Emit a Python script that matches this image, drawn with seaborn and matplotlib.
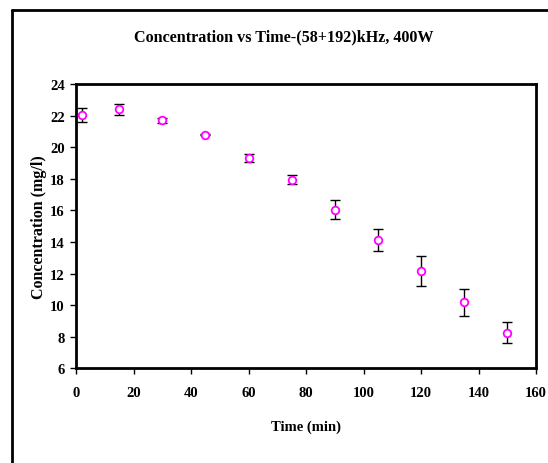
import numpy as np
import pandas as pd
import matplotlib
matplotlib.use("Agg")
import matplotlib.pyplot as plt
from matplotlib.lines import Line2D
import seaborn as sns

# data
time_min = [2, 15, 30, 45, 60, 75, 90, 105, 120, 135, 150]
conc = [22.05, 22.4, 21.7, 20.8, 19.33, 17.93, 16.05, 14.12, 12.17, 10.18, 8.27]
conc_err = [0.44, 0.35, 0.16, 0.04, 0.26, 0.29, 0.6, 0.72, 0.94, 0.87, 0.67]
x_ticks = [0, 20, 40, 60, 80, 100, 120, 140, 160]
y_ticks = [6, 8, 10, 12, 14, 16, 18, 20, 22, 24]

df = pd.DataFrame({"time": time_min, "conc": conc, "err": conc_err})

sns.set_theme(style="ticks", rc={"text.color": "black", "axes.labelcolor": "black",
                                 "xtick.color": "black", "ytick.color": "black"})
plt.rcParams["font.family"] = ["Liberation Serif", "DejaVu Serif"]
plt.rcParams["font.weight"] = "bold"

fig = plt.figure(figsize=(5.48, 4.64), dpi=100)
ax = fig.add_axes([76 / 548, 1 - 369.4 / 464, 460 / 548, 284.4 / 464])

ax.errorbar(df["time"], df["conc"], yerr=df["err"], fmt="none",
            ecolor="black", elinewidth=1.0, capsize=3.5, capthick=1.0, zorder=2)
sns.scatterplot(data=df, x="time", y="conc", ax=ax, marker="o", s=30,
                facecolor="white", edgecolor="#ff00ff", linewidth=1.3, zorder=3)

ax.set_xlim(0, 160)
ax.set_ylim(6, 24)
ax.set_xticks(x_ticks)
ax.set_yticks(y_ticks)
ax.tick_params(axis="both", direction="out", length=4, width=1, color="black",
               labelcolor="black", labelsize=10.5)
ax.tick_params(axis="x", pad=8.5)
ax.tick_params(axis="y", pad=4)
for lab in ax.get_xticklabels() + ax.get_yticklabels():
    lab.set_fontweight("bold")
for sp in ax.spines.values():
    sp.set_visible(True)
    sp.set_linewidth(2)
    sp.set_color("black")

ax.set_xlabel("Time (min)", fontsize=10.5, fontweight="bold", color="black", labelpad=15)
ax.set_ylabel("Concentration (mg/l)", fontsize=11.5, fontweight="bold", color="black",
              labelpad=2)
fig.text(0.5 + 10 / 548, 1 - 37 / 464, "Concentration vs Time-(58+192)kHz, 400W",
         ha="center", va="center", fontsize=11.6, fontweight="bold", color="black")

# outer chart-area frame (top and left edges only visible)
fig.add_artist(Line2D([12 / 548, 1.0], [1 - 11 / 464, 1 - 11 / 464],
                      transform=fig.transFigure, color="black", lw=2))
fig.add_artist(Line2D([12 / 548, 12 / 548], [0.0, 1 - 11 / 464],
                      transform=fig.transFigure, color="black", lw=2))

fig.savefig("out.png", dpi=100)
